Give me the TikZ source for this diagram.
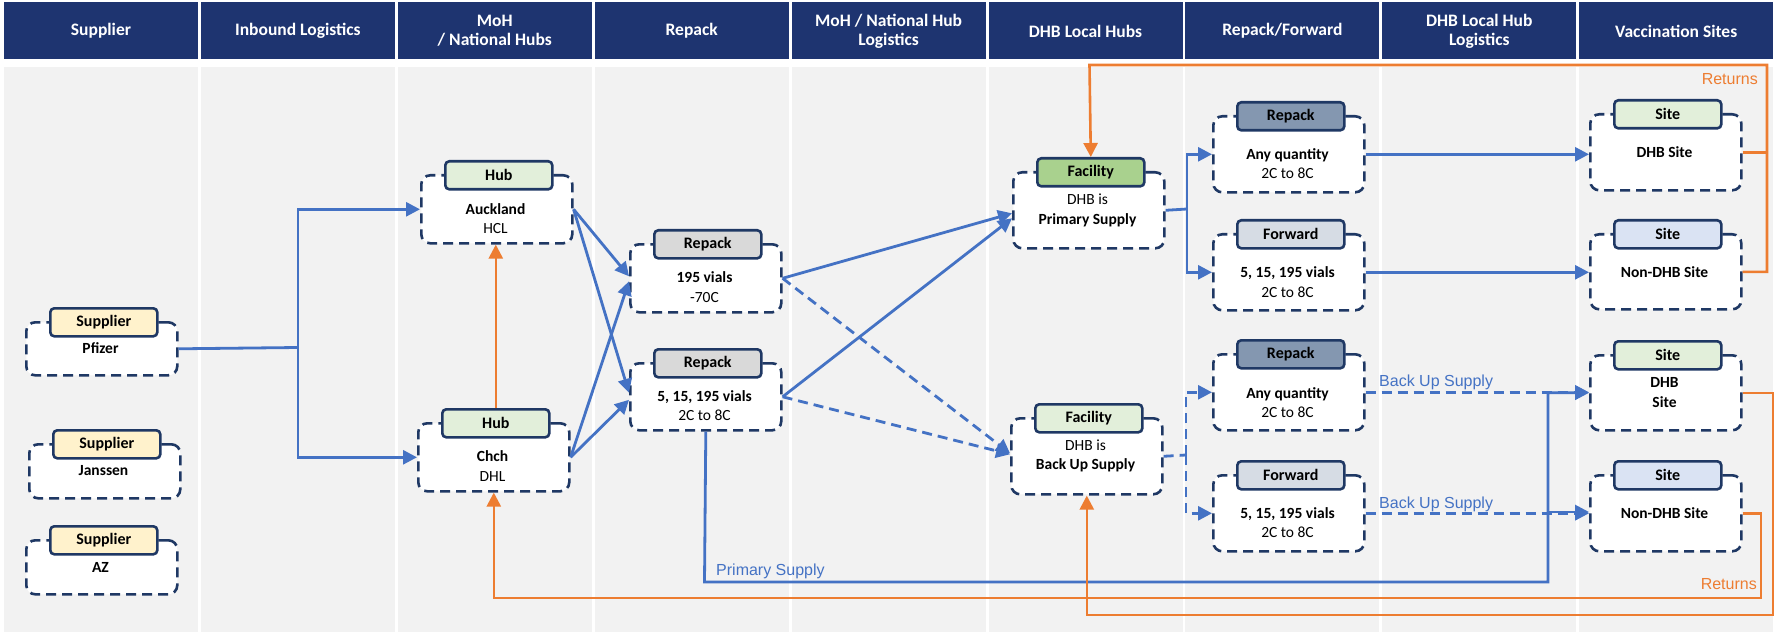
\documentclass[tikz,border=0pt]{standalone}
\usepackage{fontspec}
\setmainfont{Carlito}
\newfontfamily\arialf{Liberation Sans}
\usetikzlibrary{arrows.meta,calc}
\definecolor{navy}{HTML}{1F3864}
\definecolor{hdrblue}{HTML}{1E3470}
\definecolor{flowblue}{HTML}{4472C4}
\definecolor{retorange}{HTML}{ED7D31}
\definecolor{colgray}{HTML}{F2F2F2}
\definecolor{supfill}{HTML}{FFF2CC}
\definecolor{hubfill}{HTML}{E2EFDA}
\definecolor{grayfill}{HTML}{D9D9D9}
\definecolor{facfill}{HTML}{A9D18E}
\definecolor{rpkfill}{HTML}{8497B0}
\definecolor{fwdfill}{HTML}{D6DCE4}
\definecolor{sitefill}{HTML}{DAE3F3}
\newcommand\mkstage[8]{%
  \node[stagebox, minimum height=#4bp, anchor=north west] (#1) at (#2,#3) {};
  \node[tagbox, fill=#5, anchor=north west] (#1-tag) at ({#2+24},{#3-14}) {#6};
  \node[bodytext] (#1-text) at ({#2+75.5},{#3+#8}) {#7};
}
\begin{document}
\begin{tikzpicture}[x=1bp,y=-1bp,
  hdr/.style={fill=hdrblue, minimum width=194bp, minimum height=57bp, inner sep=0pt,
    text=white, align=center, font=\fontsize{17.5bp}{19bp}\selectfont\bfseries},
  stagebox/.style={draw=navy, fill=white, line width=2.6bp, dash pattern=on 10bp off 6bp,
    rounded corners=9bp, minimum width=151bp, inner sep=0pt},
  tagbox/.style={draw=navy, line width=2.6bp, rounded corners=4bp, minimum width=107bp,
    minimum height=28bp, inner sep=0pt, font=\fontsize{16bp}{18bp}\selectfont\bfseries},
  bodytext/.style={align=center, inner sep=0pt, font=\fontsize{15.5bp}{19.5bp}\selectfont},
  flow/.style={draw=flowblue, line width=2.8bp},
  fdash/.style={flow, dash pattern=on 10bp off 6bp},
  ret/.style={draw=retorange, line width=2.6bp},
  arr/.style={-{Triangle[length=14bp,width=14bp]}},
  lbl/.style={inner sep=0pt, font=\arialf\fontsize{16bp}{18bp}\selectfont}
]
\useasboundingbox (0,0) rectangle (1775,632);
% columns and headers
\foreach \i/\t in {0/Supplier, 1/Inbound Logistics, 2/{MoH\\/ National Hubs}, 3/Repack,
  4/{MoH / National Hub\\Logistics}, 5/DHB Local Hubs, 6/{Repack/Forward},
  7/{DHB Local Hub\\Logistics}, 8/Vaccination Sites}{
  \fill[colgray] ({4+196.9*\i},67) rectangle ({4+196.9*\i+194},632);
  \node[hdr] (hdr\i) at ({4+196.9*\i+97},31) {\t};
}
% stages
\mkstage{pfizer}{25}{321}{53}{supfill}{Supplier}{\bfseries Pfizer}{27}
\mkstage{janssen}{28}{443}{54}{supfill}{Supplier}{\bfseries Janssen}{28}
\mkstage{az}{25}{539}{54}{supfill}{Supplier}{\bfseries AZ}{28}
\mkstage{auckland}{420}{174}{68}{hubfill}{Hub}{\textbf{Auckland}\\HCL}{44.5}
\mkstage{chch}{417}{422}{68}{hubfill}{Hub}{\textbf{Chch}\\DHL}{44}
\mkstage{repack1}{629}{243}{68}{grayfill}{Repack}{\textbf{195 vials}\\-70C}{44}
\mkstage{repack2}{629}{362}{67}{grayfill}{Repack}{\textbf{5, 15, 195 vials}\\2C to 8C}{43.5}
\mkstage{facility1}{1012}{171}{76}{facfill}{Facility}{DHB is\\\textbf{Primary Supply}}{39.5}
\mkstage{facility2}{1010}{417}{76}{hubfill}{Facility}{DHB is\\\textbf{Back Up Supply}}{39}
\mkstage{repackA}{1212}{115}{76}{rpkfill}{Repack}{\textbf{Any quantity}\\2C to 8C}{48.5}
\mkstage{forwardA}{1212}{233}{76}{fwdfill}{Forward}{\textbf{5, 15, 195 vials}\\2C to 8C}{49}
\mkstage{repackB}{1212}{353}{76}{rpkfill}{Repack}{\textbf{Any quantity}\\2C to 8C}{49.5}
\mkstage{forwardB}{1212}{474}{76}{fwdfill}{Forward}{\textbf{5, 15, 195 vials}\\2C to 8C}{48.5}
\mkstage{siteA}{1589}{113}{76}{hubfill}{Site}{\textbf{DHB Site}}{39}
\mkstage{siteB}{1589}{233}{75}{sitefill}{Site}{\textbf{Non-DHB Site}}{39}
\mkstage{siteC}{1589}{354}{75}{hubfill}{Site}{\textbf{DHB}\\\textbf{Site}}{38.5}
\mkstage{siteD}{1589}{474}{76}{sitefill}{Site}{\textbf{Non-DHB Site}}{39}
% blue flows
\coordinate (jsup) at (298,347.5);
\draw[flow] (pfizer.east) -- (jsup);
\draw[flow,arr] (jsup) |- (auckland.west);
\draw[flow,arr] (jsup) |- (chch.west);
\draw[flow,arr] (auckland.east) -- ($(repack1.west)+(0,-2)$);
\draw[flow,arr] (auckland.east) -- ($(repack2.west)+(0,-4)$);
\draw[flow,arr] (chch.east) -- ($(repack1.west)+(0,3)$);
\draw[flow,arr] (chch.east) -- ($(repack2.west)+(0,3)$);
\draw[flow,arr] (repack1.east) -- ($(facility1.west)+(0,3)$);
\draw[flow,arr] (repack2.east) -- ($(facility1.west)+(0,8)$);
\draw[fdash,arr] (repack1.east) -- ($(facility2.west)+(0,-3)$);
\draw[fdash,arr] (repack2.east) -- ($(facility2.west)+(0,-2)$);
\coordinate (jf1) at (1187,209);
\draw[flow] (facility1.east) -- (jf1);
\draw[flow,arr] (jf1) |- (repackA.west);
\draw[flow,arr] (jf1) |- (forwardA.west);
\coordinate (jf2) at (1186,455);
\draw[fdash] (facility2.east) -- (jf2);
\draw[fdash,arr] (jf2) |- (repackB.west);
\draw[fdash,arr] (jf2) |- (forwardB.west);
\draw[flow,arr] (repackA.east) -- (repackA.east -| siteA.west);
\draw[flow,arr] (forwardA.east) -- (forwardA.east -| siteB.west);
\draw[fdash,arr] (repackB.east) -- (repackB.east -| siteC.west);
\draw[fdash,arr] (forwardB.east) -- (forwardB.east -| siteD.west);
\coordinate (jp1) at (704.5,582);
\coordinate (jp2) at (1548,582);
\coordinate (jp3) at (1548,512);
\draw[flow,arr] (repack2.south) -- (jp1) -- (jp2) |- (siteC.west);
\draw[flow,arr] (jp3) -- (jp3 -| siteD.west);
% returns
\coordinate (ra) at (1767,65);
\coordinate (rb) at (1089.5,65);
\coordinate (rc) at (1773,615);
\coordinate (rd) at (1761,598);
\draw[ret] (siteA.east) -- (siteA.east -| ra);
\draw[ret,arr] (siteB.east) -| (ra) -- (rb) -- (facility1-tag.north);
\draw[ret,arr] (siteC.east) -| (rc) -| (facility2.south);
\draw[ret,arr] (siteD.east) -| (rd) -| (chch.south);
\draw[ret,arr] (chch-tag.north) -- (chch-tag.north |- auckland.south);
% labels
\node[lbl, text=flowblue, anchor=base west] (lblprim) at (716,575) {Primary Supply};
\node[lbl, text=flowblue, anchor=base west] (lblback1) at (1379,386) {Back Up Supply};
\node[lbl, text=flowblue, anchor=base west] (lblback2) at (1379,508) {Back Up Supply};
\node[lbl, text=retorange, anchor=base east] (lblret1) at (1758,85) {Returns};
\node[lbl, text=retorange, anchor=base east] (lblret2) at (1757,589) {Returns};
\end{tikzpicture}
\end{document}
